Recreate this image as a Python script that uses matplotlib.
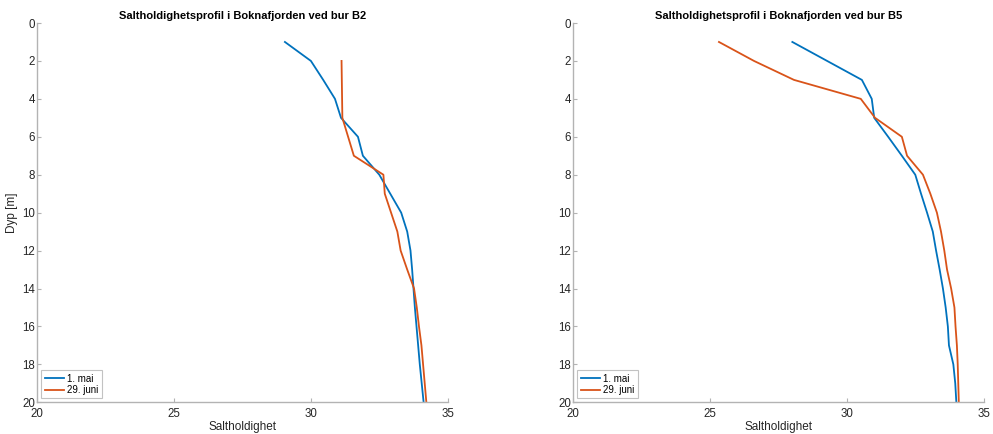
import matplotlib.pyplot as plt
import numpy as np

plt.rcParams['font.family'] = ['Liberation Sans', 'DejaVu Sans']

# B2 profiles
dyp_b2_mai = [1, 2, 3, 4, 5, 6, 7, 8, 9, 10, 11, 12, 13, 14, 15, 16, 17, 18, 19, 20]
salt_b2_mai = [29.05, 30.0, 30.45, 30.88, 31.1, 31.72, 31.9, 32.5, 32.9, 33.3,
               33.52, 33.64, 33.7, 33.75, 33.8, 33.86, 33.92, 33.98, 34.05, 34.12]
dyp_b2_juni = [2, 3, 4, 5, 6, 7, 8, 9, 10, 11, 12, 13, 14, 15, 16, 17, 18, 19, 20]
salt_b2_juni = [31.12, 31.13, 31.14, 31.15, 31.36, 31.57, 32.65, 32.7, 32.93, 33.16,
                33.28, 33.52, 33.77, 33.87, 33.95, 34.04, 34.1, 34.16, 34.22]

# B5 profiles
dyp_b5_mai = [1, 2, 3, 4, 5, 6, 7, 8, 9, 10, 11, 12, 13, 14, 15, 16, 17, 18, 19, 20]
salt_b5_mai = [28.0, 29.27, 30.54, 30.9, 30.99, 31.5, 32.0, 32.49, 32.7, 32.92,
               33.13, 33.25, 33.38, 33.5, 33.6, 33.68, 33.72, 33.88, 33.95, 33.99]
dyp_b5_juni = [1, 2, 3, 4, 5, 6, 7, 8, 9, 10, 11, 12, 13, 14, 15, 16, 17, 18, 19, 20]
salt_b5_juni = [25.32, 26.6, 28.06, 30.5, 31.02, 32.0, 32.19, 32.77, 33.04, 33.28,
                33.43, 33.55, 33.65, 33.8, 33.92, 33.96, 34.01, 34.04, 34.06, 34.08]

labels = ['1. mai', '29. juni']
blue = '#0072BD'
orange = '#D95319'
axcol = '#b3b3b3'
txtcol = '#262626'

fig = plt.figure(figsize=(9.93, 4.34), dpi=100)
ax1 = fig.add_axes([37.3/993, 1 - 402.3/434, 410.4/993, 379.3/434])
ax2 = fig.add_axes([573.3/993, 1 - 402.3/434, 410.7/993, 379.3/434])

panels = [
    (ax1, 'B2', dyp_b2_mai, salt_b2_mai, dyp_b2_juni, salt_b2_juni),
    (ax2, 'B5', dyp_b5_mai, salt_b5_mai, dyp_b5_juni, salt_b5_juni),
]

for ax, bur, d1, s1, d2, s2 in panels:
    ax.plot(s1, d1, color=blue, lw=1.3, label=labels[0])
    ax.plot(s2, d2, color=orange, lw=1.3, label=labels[1])
    ax.set_xlim(20, 35)
    ax.set_ylim(20, 0)
    ax.set_xticks([20, 25, 30, 35])
    ax.set_yticks(np.arange(0, 21, 2))
    for side in ['top', 'right']:
        ax.spines[side].set_visible(False)
    for side in ['left', 'bottom']:
        ax.spines[side].set_color(axcol)
        ax.spines[side].set_linewidth(1.0)
    ax.tick_params(direction='in', length=3, color=axcol, labelcolor=txtcol,
                   labelsize=8.3)
    ax.tick_params(axis='x', pad=4)
    ax.tick_params(axis='y', pad=1.5)
    ax.set_title('Saltholdighetsprofil i Boknafjorden ved bur ' + bur,
                 fontsize=8, fontweight='bold', color='black', pad=3)
    ax.set_xlabel('Saltholdighet', fontsize=8.5, color=txtcol, labelpad=1)
    leg = ax.legend(loc='lower left', fontsize=7, frameon=True, fancybox=False,
                    handlelength=2.0, borderpad=0.35, labelspacing=0.15,
                    borderaxespad=0.4, handletextpad=0.3)
    leg.get_frame().set_edgecolor(axcol)
    leg.get_frame().set_linewidth(0.8)

ax1.set_ylabel('Dyp [m]', fontsize=8.5, color=txtcol)
ax1.yaxis.set_label_coords(-0.046, 0.5)

fig.savefig('out.png', dpi=100)
